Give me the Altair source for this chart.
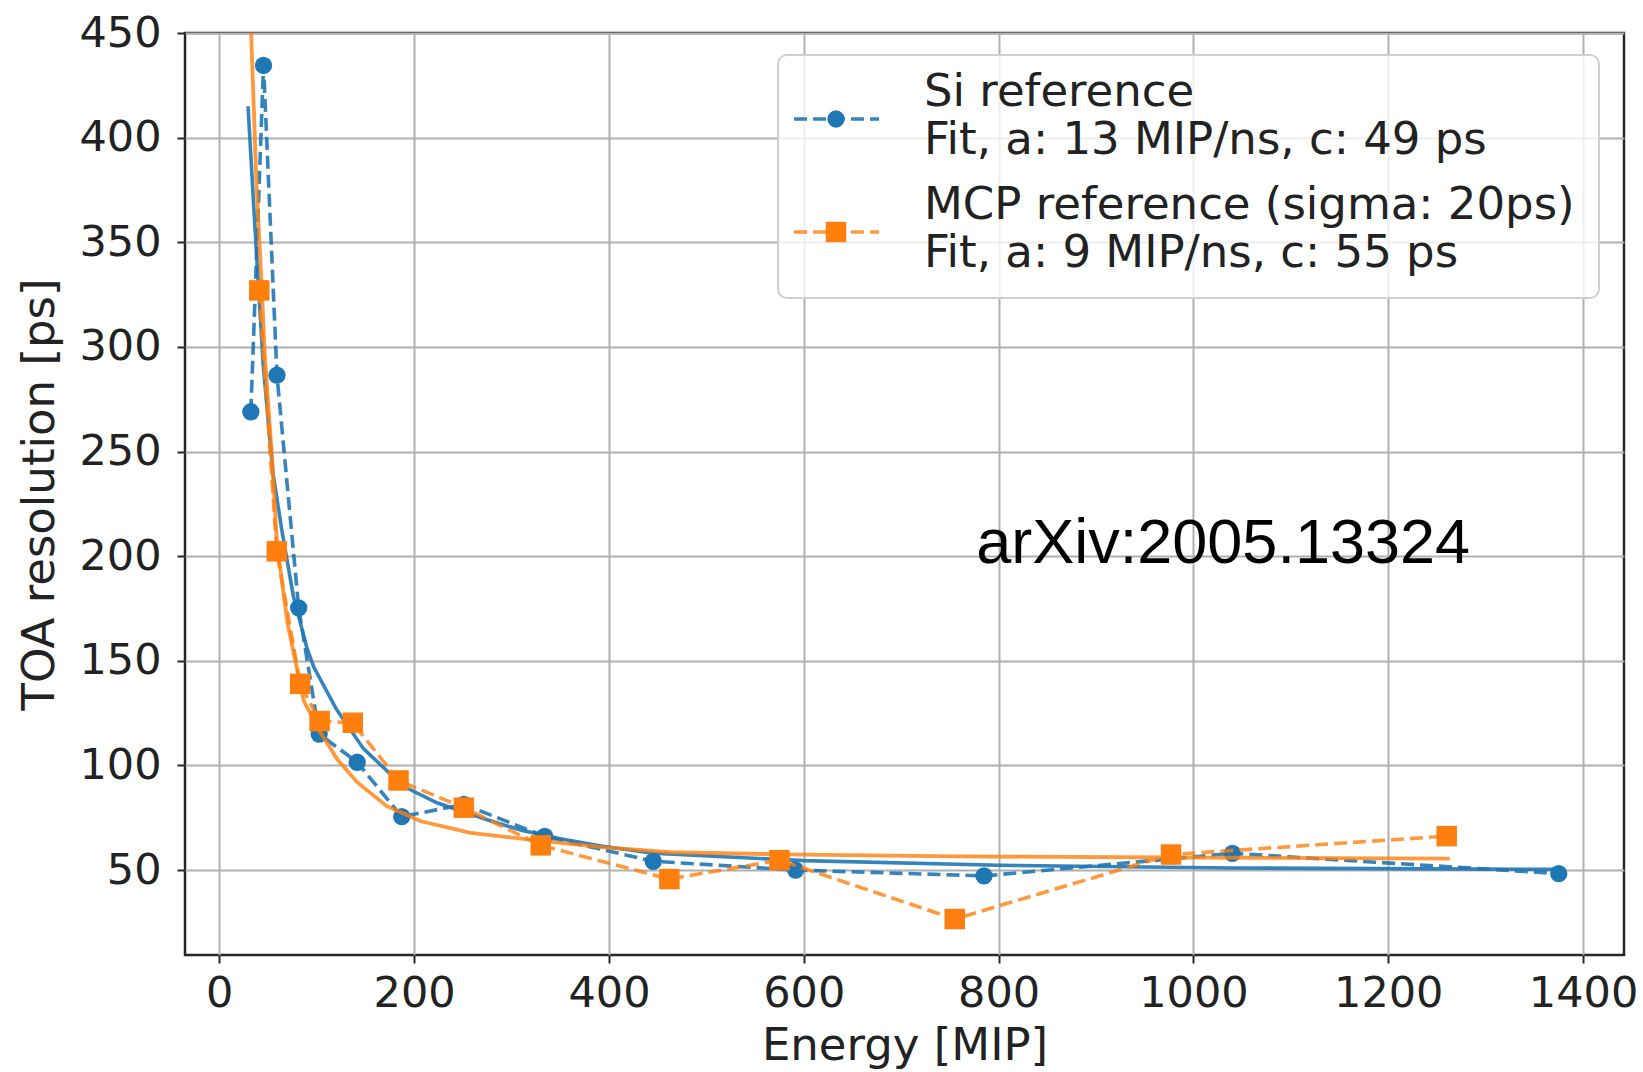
import altair as alt
import pandas as pd

# ---- data ----
si_energy = [32.4, 45.4, 59.2, 81.5, 102.5, 141.6, 187.3, 251.0, 334.0, 445.5, 591.6, 785.0, 1040.0, 1375.0]
si_res = [269.0, 434.5, 286.5, 175.3, 115.0, 101.5, 75.5, 81.4, 66.1, 54.2, 50.0, 47.2, 58.0, 48.3]

mcp_energy = [41.0, 59.0, 83.0, 103.0, 137.0, 184.0, 251.0, 330.0, 462.0, 575.0, 755.0, 977.0, 1260.0]
mcp_res = [327.0, 202.3, 139.0, 121.2, 120.4, 92.8, 79.8, 61.8, 45.7, 54.7, 26.6, 57.4, 66.2]

si_fit_energy = [29.5, 36, 45, 55, 64, 76, 90, 97, 120, 148, 189, 224, 275, 310, 350, 392, 445, 600, 800, 1040, 1375]
si_fit_res = [415, 362, 292, 240, 213, 181, 156, 147, 127, 108, 90, 82, 74, 69, 65, 61.5, 58, 54.5, 52.3, 51, 50.3]

mcp_fit_energy = [32.7, 38, 43.7, 47, 54, 59.2, 70, 86.6, 104, 121, 141.5, 172, 207, 258, 310, 392, 463, 577, 757, 980, 1263]
mcp_fit_res = [450, 380, 327, 294, 248, 206, 168, 131, 115.6, 103, 92, 80.5, 73.3, 67.8, 65, 61, 58.5, 57.5, 56.5, 56, 55.5]

x_ticks = [0, 200, 400, 600, 800, 1000, 1200, 1400]
y_ticks = [50, 100, 150, 200, 250, 300, 350, 400, 450]

legend_si = ["Si reference", "Fit, a: 13 MIP/ns, c: 49 ps"]
legend_mcp = ["MCP reference (sigma: 20ps)", "Fit, a: 9 MIP/ns, c: 55 ps"]
annotation = "arXiv:2005.13324"

BLUE = "#1f77b4"
ORANGE = "#ff7f0e"
TXT = "#222222"
FONT = "DejaVu Sans"

si = pd.DataFrame({"E": si_energy, "R": si_res})
mcp = pd.DataFrame({"E": mcp_energy, "R": mcp_res})
si_fit = pd.DataFrame({"E": si_fit_energy, "R": si_fit_res})
mcp_fit = pd.DataFrame({"E": mcp_fit_energy, "R": mcp_fit_res})
dummy = pd.DataFrame({"k": [0]})

xscale = alt.Scale(domain=[-35.2, 1442], nice=False, zero=False)
yscale = alt.Scale(domain=[9.4, 450], nice=False, zero=False)

x_axis = alt.Axis(values=x_ticks, title="Energy [MIP]", format="d")
y_axis = alt.Axis(values=y_ticks, title="TOA resolution [ps]", format="d")


def xy():
    return dict(
        x=alt.X("E:Q", scale=xscale, axis=x_axis),
        y=alt.Y("R:Q", scale=yscale, axis=y_axis),
    )


def line(df, **kw):
    return alt.Chart(df).mark_line(clip=True, **kw).encode(order=alt.Order("E:Q"), **xy())


si_line = line(si, color=BLUE, strokeWidth=3.6, strokeDash=[13, 6], strokeOpacity=0.9)
si_fit_line = line(si_fit, color=BLUE, strokeWidth=3.6, strokeOpacity=0.9)
si_pts = alt.Chart(si).mark_circle(color=BLUE, size=300, opacity=1, clip=True).encode(**xy())

mcp_line = line(mcp, color=ORANGE, strokeWidth=3.6, strokeDash=[13, 6], strokeOpacity=0.8)
mcp_pts = alt.Chart(mcp).mark_square(color=ORANGE, size=420, opacity=1, clip=True).encode(**xy())
mcp_fit_line = line(mcp_fit, color=ORANGE, strokeWidth=3.8, strokeOpacity=0.8)

note = alt.Chart(dummy).mark_text(
    text=annotation, align="left", baseline="middle", font="Liberation Sans", fontSize=63, color="#000000"
).encode(x=alt.datum(777, scale=xscale), y=alt.datum(206, scale=yscale))

# ---- legend (drawn in pixel space of the plot area) ----
legend_box = alt.Chart(dummy).mark_rect(
    fill="white", fillOpacity=0.8, stroke="#cfcfcf", strokeWidth=2, cornerRadius=9
).encode(x=alt.value(593), x2=alt.value(1414), y=alt.value(22), y2=alt.value(265))

leg_layers = [legend_box]
for ypix, col, shape, size, op in [(86, BLUE, "circle", 300, 0.9), (199, ORANGE, "square", 420, 0.8)]:
    leg_layers.append(alt.Chart(dummy).mark_rule(color=col, strokeWidth=3.6, strokeDash=[13, 6], opacity=op).encode(
        x=alt.value(609), x2=alt.value(694), y=alt.value(ypix)))
    leg_layers.append(alt.Chart(dummy).mark_point(shape=shape, filled=True, color=col, size=size, opacity=1).encode(
        x=alt.value(651), y=alt.value(ypix)))

for txt, ypix in zip(legend_si + legend_mcp, [59, 107, 172, 220]):
    leg_layers.append(alt.Chart(dummy).mark_text(
        text=txt, align="left", baseline="middle", font=FONT, fontSize=45, color=TXT
    ).encode(x=alt.value(739), y=alt.value(ypix)))

chart = alt.layer(
    si_line, si_fit_line, si_pts, mcp_line, mcp_pts, mcp_fit_line, note, *leg_layers
).properties(
    width=1439, height=922,
    padding={"left": 185, "top": 33, "right": 19, "bottom": 117},
    autosize=alt.AutoSizeParams(type="none"),
    background="white",
).configure_view(
    stroke="#262626", strokeWidth=2.5
).configure_axis(
    grid=True, gridColor="#b0b0b0", gridWidth=2,
    domain=False,
    ticks=True, tickColor="#262626", tickSize=8, tickWidth=2,
    labelFont=FONT, labelFontSize=43, labelColor=TXT,
    titleFont=FONT, titleFontSize=45, titleFontWeight="normal", titleColor=TXT,
).configure_axisX(
    labelPadding=9, titlePadding=8,
).configure_axisY(
    labelPadding=16, titlePadding=16,
)

chart.save("out.html", embed_options={"renderer": "svg", "actions": False})
